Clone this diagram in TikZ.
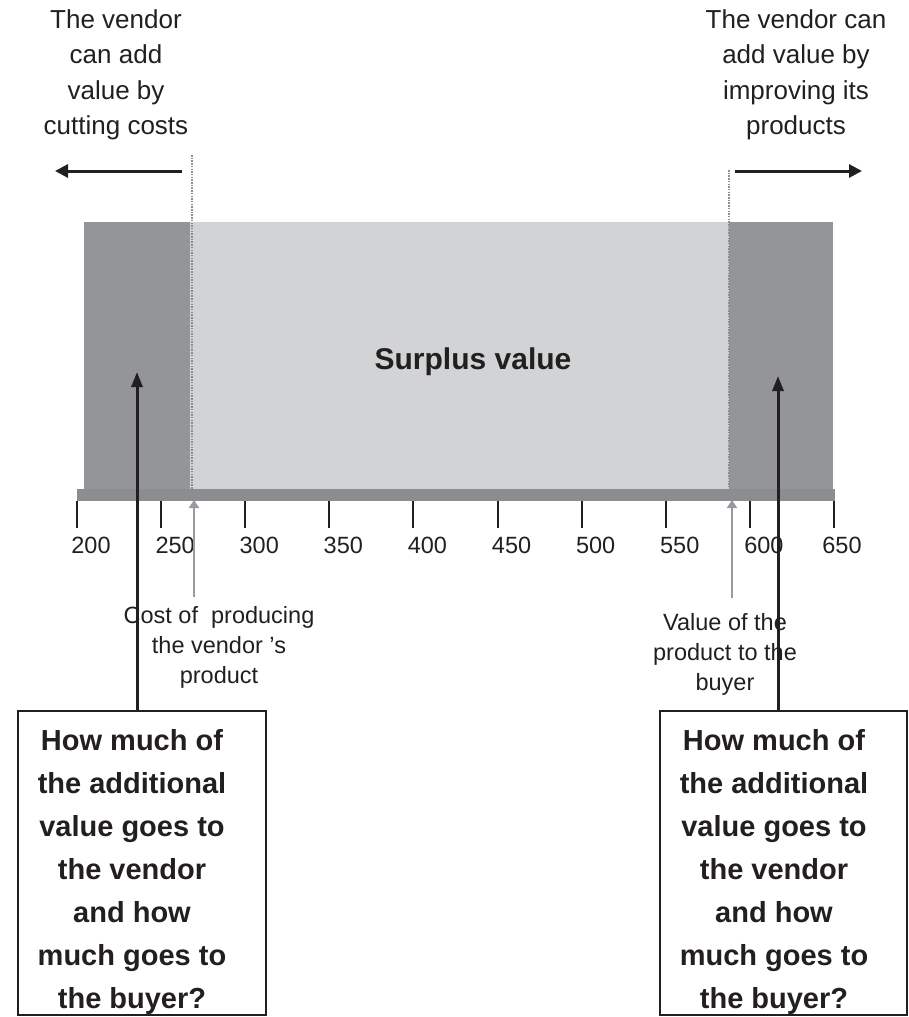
\documentclass[tikz,border=0pt]{standalone}
\usepackage{fontspec}
\setmainfont{Liberation Sans}
\usetikzlibrary{arrows.meta}
\definecolor{ink}{HTML}{231F20}
\definecolor{darkfill}{HTML}{939598}
\definecolor{lightfill}{HTML}{D1D3D4}
\definecolor{barfill}{HTML}{8C8D90}
\definecolor{pointer}{HTML}{9A9A9C}
\definecolor{guide}{HTML}{8E8E90}
\newcommand\setfs[2]{\fontsize{#1}{#2}\selectfont}
\begin{document}
\begin{tikzpicture}[x=1pt,y=-1pt,
  band/.style={draw=none, inner sep=0pt, outer sep=0pt, anchor=north west},
  txt/.style={text=ink, inner sep=0pt, align=center, anchor=north},
  tick/.style={draw=ink, line width=2pt},
  ticklabel/.style={text=ink, inner sep=0pt, anchor=base, font=\setfs{23.5}{28}},
  guideline/.style={draw=guide, line width=1.6pt, dash pattern=on 1.5pt off 1.2pt},
  toparrow/.style={draw=ink, line width=3pt, -{Triangle[length=13pt,width=13pt]}},
  grayarrow/.style={draw=pointer, line width=2.4pt, -{Triangle[length=8pt,width=10pt]}},
  bigarrow/.style={draw=ink, line width=3pt, -{Triangle[length=15pt,width=11pt]}},
  qbox/.style={draw=ink, line width=2pt, inner sep=0pt, outer sep=0pt, anchor=north west},
  qtext/.style={txt, font=\bfseries\setfs{29}{43}},
  sidetext/.style={txt, font=\setfs{26}{35.5}},
  pointtext/.style={txt, font=\setfs{23.5}{30}}
]
\useasboundingbox (0,0) rectangle (909,1017);

% value bands above the axis
\node[band, fill=darkfill, minimum width=106pt, minimum height=267pt] (costband) at (84,222) {};
\node[band, fill=lightfill, minimum width=539pt, minimum height=267pt] (surplusband) at (190,222) {};
\node[band, fill=darkfill, minimum width=104pt, minimum height=267pt] (valueband) at (729,222) {};
\node[text=ink, font=\bfseries\setfs{30}{36}, anchor=base, inner sep=0pt] (surplus) at (473,369) {Surplus value};

% axis bar with ticks and numbers
\node[band, fill=barfill, minimum width=758pt, minimum height=12pt] (axis) at (77,489) {};
\foreach \v in {200,250,...,650} {
  \pgfmathsetmacro\tx{77+(\v-200)*1.6822}
  \pgfmathsetmacro\off{\v==650 ? 8 : 14}
  \coordinate (t\v) at (\tx,501);
  \draw[tick] (t\v) -- ++(0,27);
  \node[ticklabel] (n\v) at (\tx+\off,553) {\v};
}

% dotted guides at the cost and value limits
\coordinate (cutL) at (192,155);
\coordinate (cutR) at (729,170);
\draw[guideline] (cutL) -- (cutL |- costband.south);
\draw[guideline] (cutR) -- (cutR |- valueband.south);

% directions in which the vendor can add value
\coordinate (la0) at (182,171);
\coordinate (la1) at (55,171);
\coordinate (ra0) at (735,171);
\coordinate (ra1) at (862,171);
\draw[toparrow] (la0) -- (la1);
\draw[toparrow] (ra0) -- (ra1);
\node[sidetext] (cuttext) at (116,9) {The vendor\\can add\\value by\\cutting costs};
\node[sidetext] (improvetext) at (796,9) {The vendor can\\add value by\\improving its\\products};

% labels for the cost and value points
\node[pointtext] (costlabel) at (219,606) {Cost of\ \ producing\\the vendor ’s\\product};
\node[pointtext] (valuelabel) at (725,613) {Value of the\\product to the\\buyer};
\coordinate (costfoot) at (194,597);
\coordinate (costpt) at (194,500);
\coordinate (valuefoot) at (732,598);
\coordinate (valuept) at (732,500);
\draw[grayarrow] (costfoot) -- (costpt);
\draw[grayarrow] (valuefoot) -- (valuept);

% question boxes
\node[qbox, minimum width=248pt, minimum height=304pt] (lbox) at (18,711) {};
\node[qbox, minimum width=247pt, minimum height=304pt] (rbox) at (660,711) {};
\node[qtext] (lq) at (132,729) {How much of\\the additional\\value goes to\\the vendor\\and how\\much goes to\\the buyer?};
\node[qtext] (rq) at (774,729) {How much of\\the additional\\value goes to\\the vendor\\and how\\much goes to\\the buyer?};

\coordinate (ltip) at (137,372);
\coordinate (rtip) at (778,376);
\draw[bigarrow] (lbox.north -| ltip) -- (ltip);
\draw[bigarrow] (rbox.north -| rtip) -- (rtip);
\end{tikzpicture}
\end{document}
